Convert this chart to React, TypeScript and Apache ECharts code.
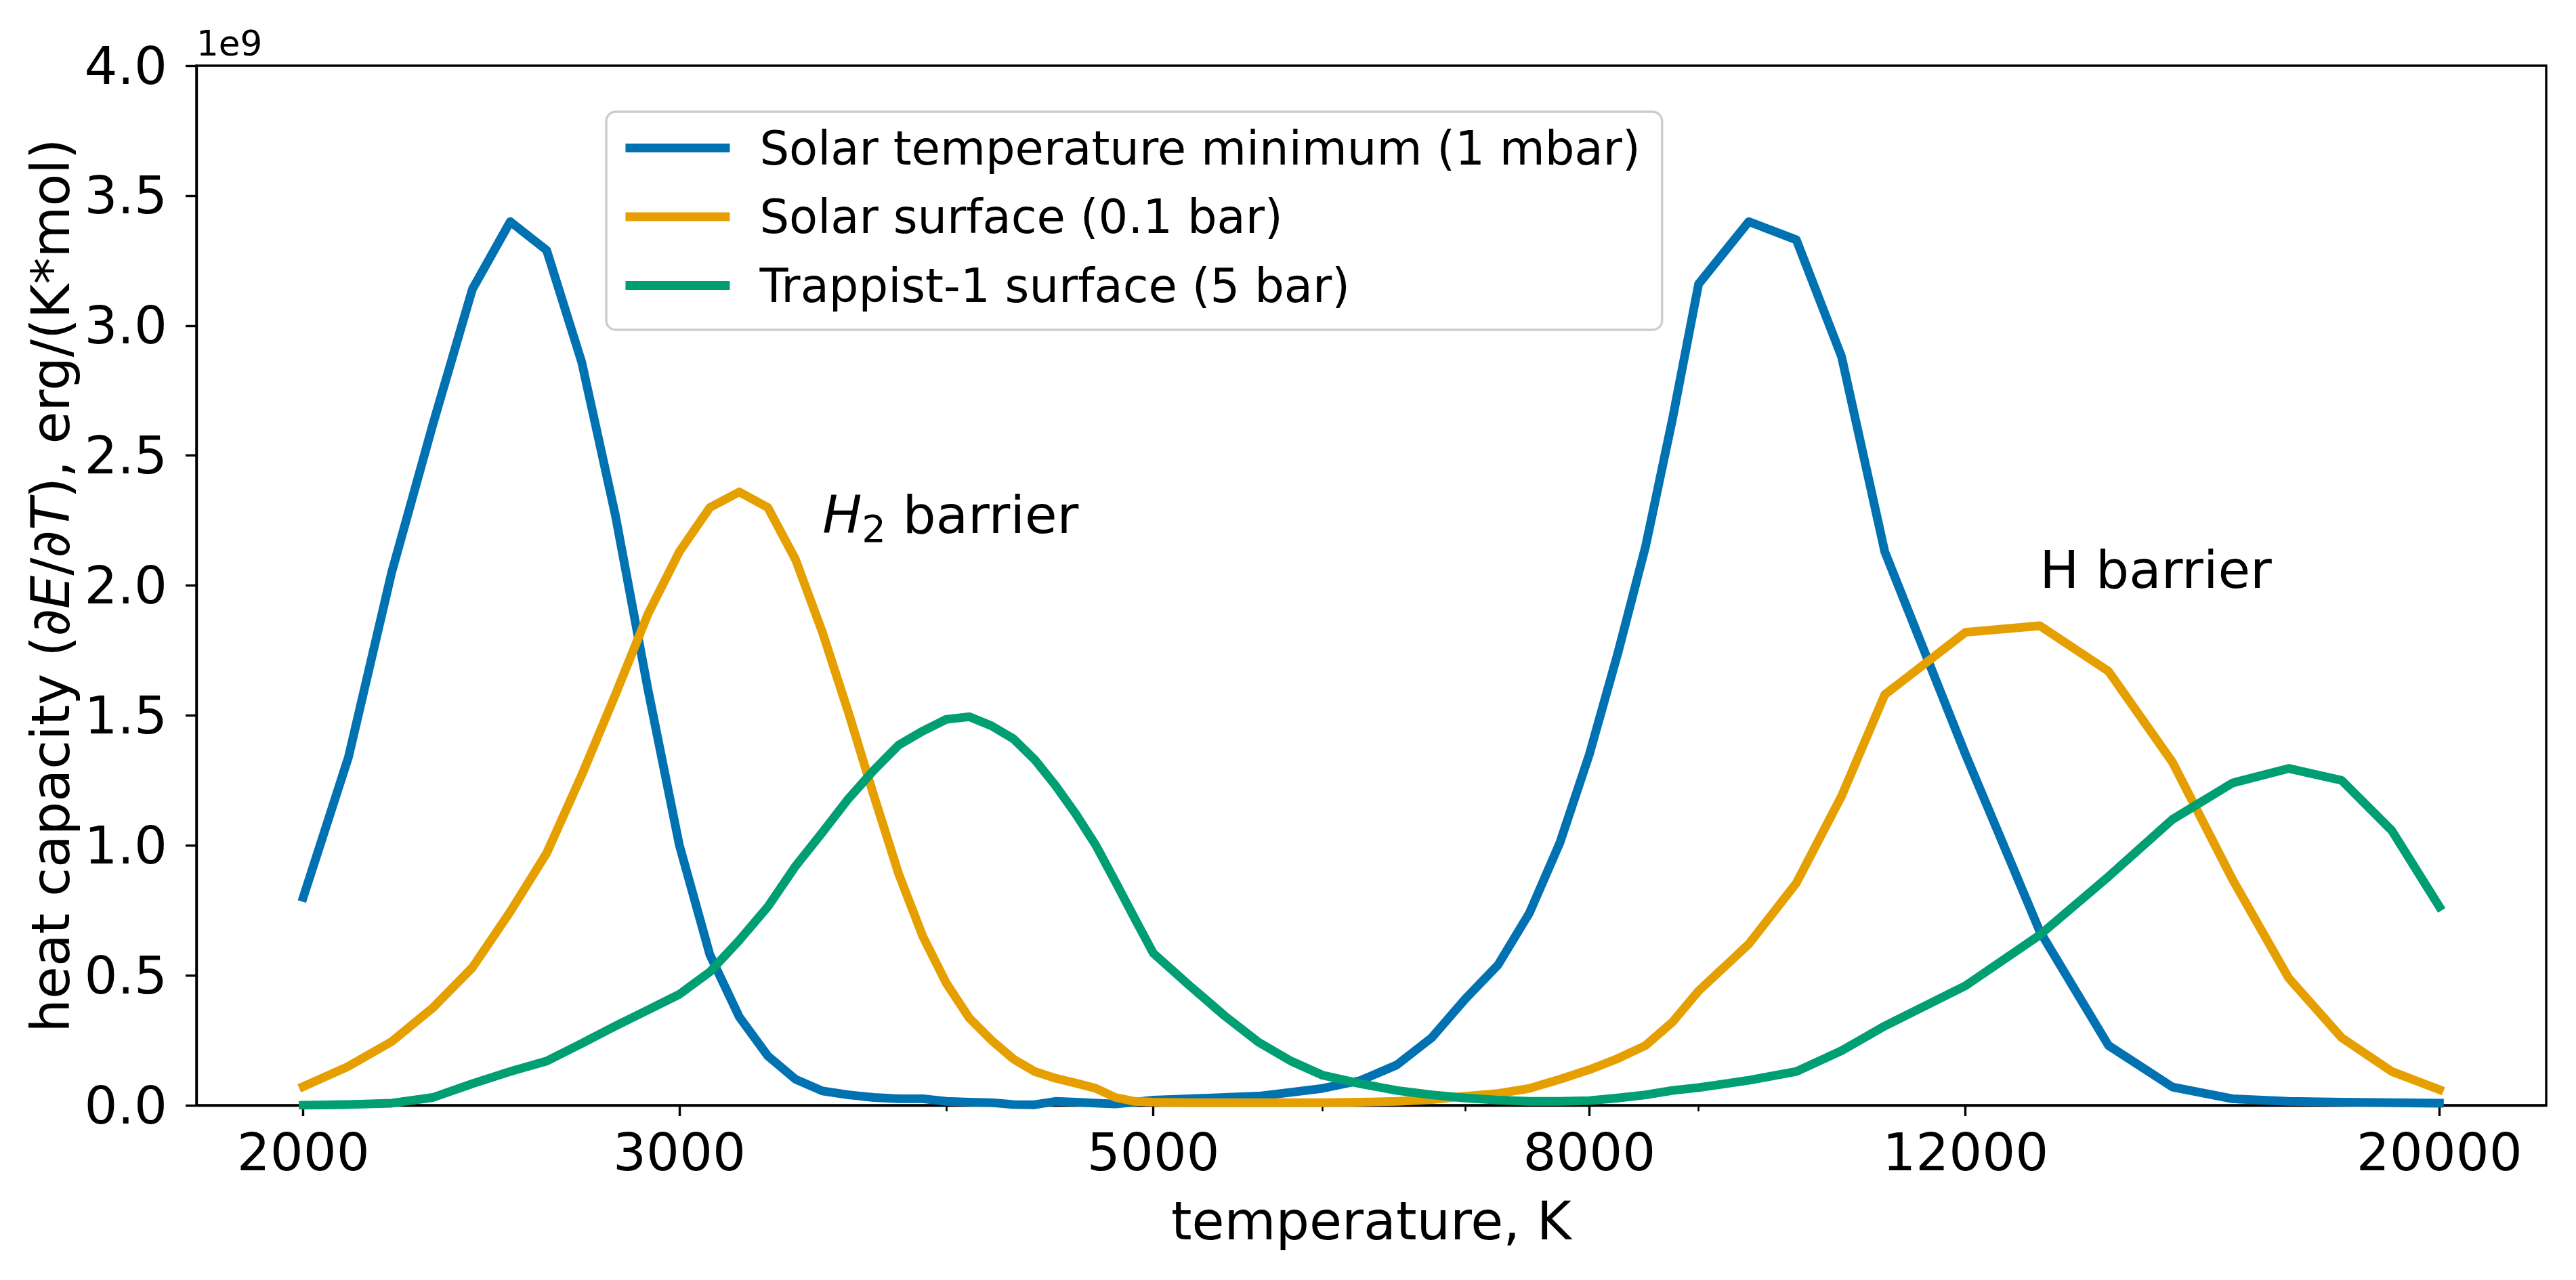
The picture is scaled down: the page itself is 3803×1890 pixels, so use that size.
import React, { useEffect, useRef } from "react";
import * as echarts from "echarts";

// ---- data (heat capacity in units of 1e9 erg/(K*mol)) ----
const temperatures = [
  2000, 2100, 2200, 2300, 2400, 2500, 2600, 2700, 2800, 2900,
  3000, 3100, 3200, 3300, 3400, 3500, 3600, 3700, 3800, 3900,
  4000, 4100, 4200, 4300, 4400, 4500, 4600, 4700, 4800, 4900,
  5000, 5200, 5400, 5600, 5800, 6000, 6250, 6500, 6750, 7000,
  7250, 7500, 7750, 8000, 8250, 8500, 8750, 9000, 9500, 10000,
  10500, 11000, 12000, 13000, 14000, 15000, 16000, 17000, 18000, 19000,
  20000,
];

const solarMinimum = [
  0.80, 1.34, 2.05, 2.62, 3.14, 3.40, 3.29, 2.86, 2.27, 1.60,
  1.00, 0.58, 0.34, 0.19, 0.10, 0.055, 0.04, 0.03, 0.025, 0.025,
  0.015, 0.012, 0.01, 0.003, 0.002, 0.015, 0.012, 0.008, 0.005, 0.012,
  0.02, 0.025, 0.03, 0.035, 0.05, 0.065, 0.095, 0.155, 0.26, 0.41,
  0.54, 0.74, 1.01, 1.35, 1.74, 2.15, 2.64, 3.16, 3.40, 3.33,
  2.88, 2.13, 1.35, 0.67, 0.23, 0.07, 0.025, 0.015, 0.012, 0.01,
  0.008,
];

const solarSurface = [
  0.072, 0.15, 0.245, 0.375, 0.53, 0.745, 0.97, 1.27, 1.58, 1.89,
  2.13, 2.30, 2.36, 2.30, 2.10, 1.82, 1.51, 1.19, 0.89, 0.65,
  0.47, 0.336, 0.25, 0.178, 0.13, 0.104, 0.085, 0.065, 0.03, 0.015,
  0.012, 0.01, 0.01, 0.01, 0.01, 0.01, 0.012, 0.015, 0.022, 0.035,
  0.045, 0.065, 0.10, 0.137, 0.18, 0.23, 0.32, 0.44, 0.62, 0.855,
  1.19, 1.58, 1.82, 1.845, 1.67, 1.32, 0.87, 0.49, 0.26, 0.13,
  0.06,
];

const trappistSurface = [
  0.0, 0.003, 0.008, 0.03, 0.083, 0.13, 0.17, 0.238, 0.305, 0.367,
  0.427, 0.513, 0.635, 0.764, 0.92, 1.05, 1.18, 1.29, 1.386, 1.44,
  1.485, 1.495, 1.46, 1.41, 1.33, 1.23, 1.12, 1.00, 0.86, 0.72,
  0.585, 0.46, 0.344, 0.243, 0.17, 0.116, 0.083, 0.057, 0.04, 0.028,
  0.02, 0.015, 0.015, 0.018, 0.028, 0.04, 0.057, 0.068, 0.096, 0.13,
  0.21, 0.305, 0.46, 0.655, 0.88, 1.10, 1.24, 1.296, 1.25, 1.057,
  0.764,
];

const seriesNames = [
  "Solar temperature minimum (1 mbar)",
  "Solar surface (0.1 bar)",
  "Trappist-1 surface (5 bar)",
];
const seriesValues = [solarMinimum, solarSurface, trappistSurface];
const seriesColors = ["#0072B2", "#E69F00", "#009E73"];

const majorTicks = [2000, 3000, 5000, 8000, 12000, 20000];
const minorTicks = [4000, 6000, 7000, 9000];
const VALUE_SCALE = 1e9;
const Y_MAX = 4;
const Y_STEP = 0.5;

// annotation positions in data coordinates (temperature, value in 1e9)
const annotations = [
  { t: 3500, v: 2.2, text: "{i|H}{s|2}{n| barrier}" },
  { t: 13000, v: 2.0, text: "{n|H barrier}" },
];

// ---- layout / style ----
const W = 3803;
const H = 1890;
const GRID = { left: 290, right: 44, top: 97, bottom: 258 };
const FONT = "DejaVu Sans";
const TICK_FS = 77;
const LABEL_FS = 78;
const LEGEND_FS = 68.8;
const ANNOT_FS = 77.4;
const SUB_FS = 56;
const OFFSET_FS = 51.6;
const SPINE_W = 3.4;
const LINE_W = 12.9;
const MARGIN_FACTOR = Math.pow(10, 0.05);
const X_MIN = majorTicks[0] / MARGIN_FACTOR;
const X_MAX = majorTicks[majorTicks.length - 1] * MARGIN_FACTOR;
const ANNOT_LINE_H = 87;

export default function App() {
  const ref = useRef<HTMLDivElement>(null);

  useEffect(() => {
    if (!ref.current) return;
    const chart = echarts.init(ref.current, undefined, { renderer: "svg" });

    const series = seriesNames.map((name, idx) => ({
      type: "line",
      name,
      xAxisIndex: 0,
      yAxisIndex: 0,
      data: temperatures.map((t, i) => [t, seriesValues[idx][i] * VALUE_SCALE]),
      symbol: "none",
      showSymbol: false,
      color: seriesColors[idx],
      itemStyle: { color: seriesColors[idx] },
      lineStyle: { width: LINE_W, color: seriesColors[idx], cap: "square", join: "round" },
      z: 2 + idx,
      silent: true,
      clip: true,
    }));

    const option: any = {
      animation: false,
      backgroundColor: "#ffffff",
      textStyle: { fontFamily: FONT },
      grid: {
        left: GRID.left,
        right: GRID.right,
        top: GRID.top,
        bottom: GRID.bottom,
        show: true,
        borderColor: "#000",
        borderWidth: SPINE_W,
        backgroundColor: "transparent",
      },
      xAxis: [
        {
          type: "log",
          logBase: 10,
          min: X_MIN,
          max: X_MAX,
          gridIndex: 0,
          position: "bottom",
          axisLine: { show: true, onZero: false, lineStyle: { color: "#000", width: SPINE_W } },
          axisTick: { show: true, customValues: majorTicks, length: 16, lineStyle: { color: "#000", width: SPINE_W } },
          axisLabel: {
            show: true,
            customValues: majorTicks,
            formatter: (v: number) => String(Math.round(v)),
            fontSize: TICK_FS,
            fontFamily: FONT,
            color: "#000",
            margin: 31,
          },
          minorTick: { show: false },
          splitLine: { show: false },
          name: "temperature, K",
          nameLocation: "middle",
          nameGap: 132,
          nameTextStyle: { fontSize: LABEL_FS, fontFamily: FONT, color: "#000" },
        },
        {
          type: "log",
          logBase: 10,
          min: X_MIN,
          max: X_MAX,
          gridIndex: 0,
          position: "bottom",
          axisLine: { show: false, onZero: false },
          axisTick: { show: true, customValues: minorTicks, length: 9, lineStyle: { color: "#000", width: 2.6 } },
          axisLabel: { show: false },
          splitLine: { show: false },
        },
      ],
      yAxis: {
        type: "value",
        min: 0,
        max: Y_MAX * VALUE_SCALE,
        interval: Y_STEP * VALUE_SCALE,
        axisLine: { show: true, lineStyle: { color: "#000", width: SPINE_W } },
        axisTick: { show: true, length: 16, lineStyle: { color: "#000", width: SPINE_W } },
        axisLabel: {
          fontSize: TICK_FS,
          fontFamily: FONT,
          color: "#000",
          margin: 43,
          formatter: (v: number) => (v / VALUE_SCALE).toFixed(1),
        },
        splitLine: { show: false },
        name: "heat capacity (∂{i|E}/∂{i|T}), erg/(K*mol)",
        nameLocation: "middle",
        nameGap: 176,
        nameTextStyle: {
          fontSize: LABEL_FS,
          fontFamily: FONT,
          color: "#000",
          rich: {
            i: { fontStyle: "italic", fontSize: LABEL_FS, fontFamily: FONT, color: "#000" },
          },
        },
      },
      legend: {
        orient: "vertical",
        left: 895,
        top: 165,
        padding: [19, 32, 31, 22],
        itemWidth: 154,
        itemHeight: 13,
        itemGap: 32.5,
        backgroundColor: "rgba(255,255,255,0.8)",
        borderColor: "#cccccc",
        borderWidth: SPINE_W,
        borderRadius: 14,
        selectedMode: false,
        lineStyle: { width: LINE_W, cap: "butt" },
        textStyle: {
          fontFamily: FONT,
          fontSize: LEGEND_FS,
          color: "#000",
          lineHeight: 69,
          padding: [0, 0, 0, 39],
        },
        data: seriesNames,
      },
      series,
    };

    chart.setOption(option);

    const graphics: any[] = [
      {
        type: "text",
        silent: true,
        style: {
          text: "1e9",
          x: GRID.left,
          y: 64,
          fill: "#000",
          fontSize: OFFSET_FS,
          fontFamily: FONT,
          align: "left",
          verticalAlign: "middle",
        },
      },
    ];

    annotations.forEach((a) => {
      const p = chart.convertToPixel({ xAxisIndex: 0, yAxisIndex: 0 }, [a.t, a.v * VALUE_SCALE]) as number[];
      if (!p) return;
      // line box of ANNOT_LINE_H centred on y; main glyphs top-aligned in it,
      // so their baseline sits about (ANNOT_FS/2 + 0.35*ANNOT_FS) below the line top.
      const baselineOffset = -ANNOT_LINE_H / 2 + ANNOT_FS / 2 + 0.35 * ANNOT_FS;
      graphics.push({
        type: "text",
        silent: true,
        z: 20,
        style: {
          text: a.text,
          x: p[0],
          y: p[1] - baselineOffset,
          fill: "#000",
          fontSize: ANNOT_FS,
          fontFamily: FONT,
          align: "left",
          verticalAlign: "middle",
          rich: {
            i: { fontStyle: "italic", fontSize: ANNOT_FS, fontFamily: FONT, lineHeight: 80, verticalAlign: "top", fill: "#000" },
            n: { fontSize: ANNOT_FS, fontFamily: FONT, lineHeight: 80, verticalAlign: "top", fill: "#000" },
            s: { fontSize: SUB_FS, fontFamily: FONT, lineHeight: ANNOT_LINE_H, verticalAlign: "bottom", fill: "#000" },
          },
        },
      });
    });

    chart.setOption({ graphic: graphics });

    return () => {
      chart.dispose();
    };
  }, []);

  return (
    <div
      ref={ref}
      style={{ position: "fixed", left: 0, top: 0, width: W, height: H, background: "#fff" }}
    />
  );
}
